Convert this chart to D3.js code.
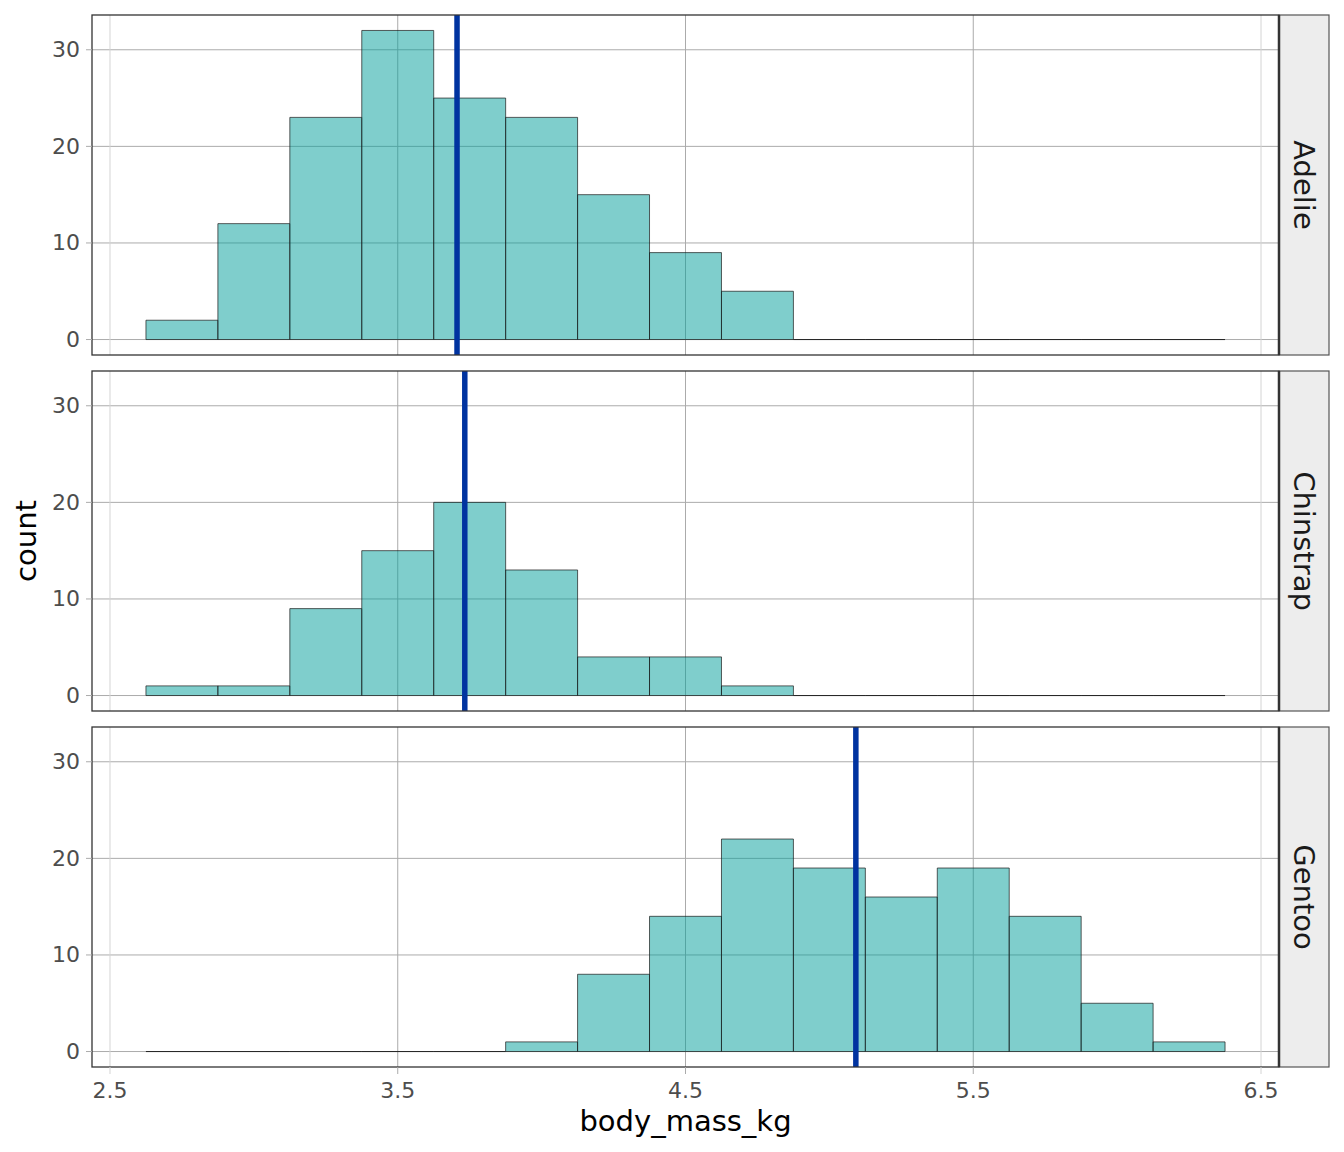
<!DOCTYPE html>
<html>
<head>
<meta charset="utf-8">
<script src="https://cdn.jsdelivr.net/npm/d3@7"></script>
<style>
  html, body { margin: 0; padding: 0; background: #fff; }
  svg { display: block; font-family: "DejaVu Sans", sans-serif; }
</style>
</head>
<body>
<svg id="chart" width="1344" height="1152"></svg>
<script>
// ---- data ----
const species = ["Adelie", "Chinstrap", "Gentoo"];
const binEdges = [2.625, 2.875, 3.125, 3.375, 3.625, 3.875, 4.125, 4.375, 4.625, 4.875, 5.125, 5.375, 5.625, 5.875, 6.125, 6.375];
const countsAdelie    = [2, 12, 23, 32, 25, 23, 15, 9, 5, 0, 0, 0, 0, 0, 0];
const countsChinstrap = [1, 1, 9, 15, 20, 13, 4, 4, 1, 0, 0, 0, 0, 0, 0];
const countsGentoo    = [0, 0, 0, 0, 0, 1, 8, 14, 22, 19, 16, 19, 14, 5, 1];
const meanMass = [3.706, 3.733, 5.092];
const xTicks = [2.5, 3.5, 4.5, 5.5, 6.5];
const xTickLabels = ["2.5", "3.5", "4.5", "5.5", "6.5"];
const yTicks = [0, 10, 20, 30];
const xTitle = "body_mass_kg";
const yTitle = "count";

const seriesCounts = [countsAdelie, countsChinstrap, countsGentoo];

// ---- layout ----
const panelLeft = 92, panelRight = 1279, stripW = 50;
const panelTops = [15, 371, 727], panelH = 340;

const svg = d3.select("#chart");

const xMin = binEdges[0], xMax = binEdges[binEdges.length - 1];
const xPad = (xMax - xMin) * 0.05;
const x = d3.scaleLinear().domain([xMin - xPad, xMax + xPad]).range([panelLeft, panelRight]);

const yMaxData = d3.max(seriesCounts.flat());
const yPad = yMaxData * 0.05;

species.forEach((sp, i) => {
  const top = panelTops[i], bottom = top + panelH;
  const y = d3.scaleLinear().domain([-yPad, yMaxData + yPad]).range([bottom, top]);
  const g = svg.append("g");

  // gridlines
  g.selectAll("line.gy").data(yTicks).join("line")
    .attr("x1", panelLeft).attr("x2", panelRight)
    .attr("y1", d => y(d)).attr("y2", d => y(d))
    .attr("stroke", "#ababab").attr("stroke-width", 1);
  g.selectAll("line.gx").data(xTicks).join("line")
    .attr("x1", d => x(d)).attr("x2", d => x(d))
    .attr("y1", top).attr("y2", bottom)
    .attr("stroke", (d, j) => (j === 0 || j === xTicks.length - 1) ? "#d4d4d4" : "#ababab")
    .attr("stroke-width", 1);

  // bars
  const bins = seriesCounts[i].map((c, j) => ({x0: binEdges[j], x1: binEdges[j + 1], c}));
  g.selectAll("path.bar").data(bins).join("path")
    .attr("d", d => {
      const x0 = x(d.x0), x1 = x(d.x1), y0 = y(0), y1 = y(d.c);
      return `M${x0},${y0}V${y1}H${x1}V${y0}Z`;
    })
    .attr("fill", "rgb(0,157,153)").attr("fill-opacity", 0.5)
    .attr("stroke", "#1a1a1a").attr("stroke-width", 0.7);

  // mean line
  g.append("line")
    .attr("x1", x(meanMass[i])).attr("x2", x(meanMass[i]))
    .attr("y1", top).attr("y2", bottom)
    .attr("stroke", "#0033a0").attr("stroke-width", 5.5);

  // panel border
  g.append("rect")
    .attr("x", panelLeft).attr("y", top).attr("width", panelRight - panelLeft).attr("height", panelH)
    .attr("fill", "none").attr("stroke", "#333333").attr("stroke-width", 1.3);

  // y axis ticks and labels
  g.selectAll("line.ty").data(yTicks).join("line")
    .attr("x1", panelLeft - 6).attr("x2", panelLeft)
    .attr("y1", d => y(d)).attr("y2", d => y(d))
    .attr("stroke", "#ababab").attr("stroke-width", 1);
  g.selectAll("text.ly").data(yTicks).join("text")
    .attr("x", panelLeft - 12).attr("y", d => y(d))
    .attr("text-anchor", "end").attr("dominant-baseline", "central")
    .attr("font-size", 22).attr("fill", "#4d4d4d")
    .text(d => d);

  // strip
  g.append("rect")
    .attr("x", panelRight).attr("y", top).attr("width", stripW).attr("height", panelH)
    .attr("fill", "#ededed").attr("stroke", "#555555").attr("stroke-width", 1.2);
  g.append("line")
    .attr("x1", panelRight).attr("x2", panelRight).attr("y1", top).attr("y2", bottom)
    .attr("stroke", "#333333").attr("stroke-width", 2.5);
  g.append("text")
    .attr("transform", `translate(${panelRight + stripW / 2},${top + panelH / 2}) rotate(90)`)
    .attr("text-anchor", "middle").attr("dominant-baseline", "central")
    .attr("font-size", 29).attr("fill", "#1a1a1a")
    .text(sp);

  // x axis on bottom panel
  if (i === species.length - 1) {
    g.selectAll("line.tx").data(xTicks).join("line")
      .attr("x1", d => x(d)).attr("x2", d => x(d))
      .attr("y1", bottom).attr("y2", bottom + 7)
      .attr("stroke", (d, j) => (j === 0 || j === xTicks.length - 1) ? "#d4d4d4" : "#ababab")
      .attr("stroke-width", 1);
    g.selectAll("text.lx").data(xTicks).join("text")
      .attr("x", d => x(d)).attr("y", bottom + 31)
      .attr("text-anchor", "middle")
      .attr("font-size", 22).attr("fill", "#4d4d4d")
      .text((d, j) => xTickLabels[j]);
  }
});

// axis titles
svg.append("text")
  .attr("x", (panelLeft + panelRight) / 2).attr("y", 1131)
  .attr("text-anchor", "middle").attr("font-size", 29).attr("fill", "#000")
  .text(xTitle);
svg.append("text")
  .attr("transform", `translate(36,${(panelTops[0] + panelTops[2] + panelH) / 2}) rotate(-90)`)
  .attr("text-anchor", "middle").attr("font-size", 29).attr("fill", "#000")
  .text(yTitle);
</script>
</body>
</html>
